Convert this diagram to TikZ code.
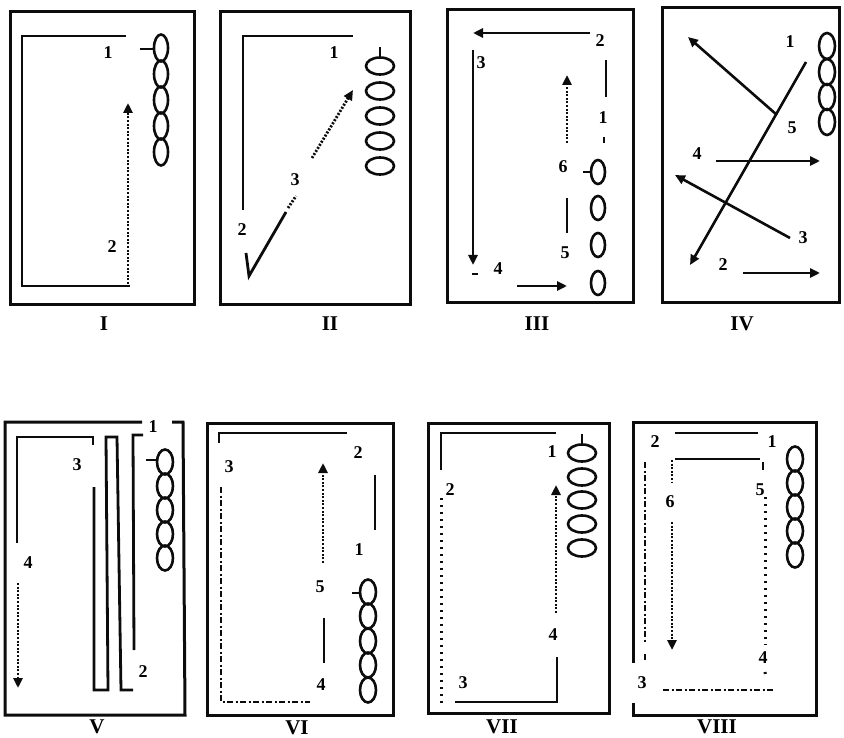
\documentclass[tikz,border=0pt]{standalone}
\usepackage{fontspec}
\setmainfont{Liberation Serif}
\usepackage{xcolor}
\usetikzlibrary{arrows.meta}
\definecolor{InkBlack}{RGB}{12, 12, 12}

\tikzset{
  frame/.style={draw=InkBlack, line width=3pt, line join=miter},
  wall/.style={draw=InkBlack, line width=2.8pt},
  flow/.style={draw=InkBlack, line width=2.6pt, -{Triangle[length=10pt, width=9pt]}},
  dotline/.style={draw=InkBlack, line width=2.8pt, dash pattern=on 2pt off 1.6pt},
  dotflow/.style={flow, line width=2.8pt, dash pattern=on 2pt off 1.6pt},
  sparse/.style={draw=InkBlack, line width=3pt, dash pattern=on 2pt off 5pt},
  dashdot/.style={draw=InkBlack, line width=2.6pt, dash pattern=on 6pt off 2.5pt on 2pt off 2.5pt},
  bead/.style={draw=InkBlack, line width=2.6pt},
  num/.style={font=\fontsize{18}{18}\selectfont\bfseries, inner sep=0pt},
  roman/.style={font=\fontsize{21}{21}\selectfont\bfseries, inner sep=0pt}
}

\begin{document}
\begin{tikzpicture}[x=1pt, y=-1pt]
  \useasboundingbox (0,0) rectangle (844,738);

  % I
  \draw[frame] (10,12) rectangle (194,305);
  \draw[wall] (126,36) -- (22,36) -- (22,286) -- (130,286);
  \draw[dotflow] (128,284) -- (128,103);
  \foreach \y in {48,74,100,126,152}
    \draw[bead] (161,\y) ellipse [x radius=7pt, y radius=13.5pt];
  \draw[bead] (140,49) -- (154,49);
  \node[num] (oneA) at (108,53) {1};
  \node[num] (oneB) at (112,247) {2};
  \node[roman] (romI) at (104,324) {I};

  % II
  \draw[frame] (220,12) rectangle (410,305);
  \draw[wall] (353,36) -- (243,36) -- (243,210);
  \draw[wall] (246,253) -- (249,276) -- (286,212);
  \draw[dotline] (288,208) -- (296,196);
  \draw[dotflow] (312,158) -- (353,90);
  \foreach \y in {66,91,116,141,166}
    \draw[bead] (380,\y) ellipse [x radius=14pt, y radius=8.5pt];
  \draw[bead] (380,58) -- (380,47);
  \node[num] (twoA) at (334,53) {1};
  \node[num] (twoB) at (242,230) {2};
  \node[num] (twoC) at (295,180) {3};
  \node[roman] (romII) at (330,324) {II};

  % III
  \draw[frame] (447,10) rectangle (633,303);
  \draw[flow] (590,33) -- (473,33);
  \draw[flow] (473,50) -- (473,265);
  \draw[flow] (517,286) -- (567,286);
  \draw[wall] (472,274) -- (478,274);
  \draw[wall] (606,60) -- (606,97);
  \draw[wall] (604,137) -- (604,143);
  \draw[dotflow] (567,143) -- (567,75);
  \draw[wall] (567,198) -- (567,233);
  \foreach \y in {172,208,245,283}
    \draw[bead] (598,\y) ellipse [x radius=7pt, y radius=12pt];
  \draw[bead] (583,172) -- (591,172);
  \node[num] (threeA) at (603,118) {1};
  \node[num] (threeB) at (600,41) {2};
  \node[num] (threeC) at (481,63) {3};
  \node[num] (threeD) at (498,269) {4};
  \node[num] (threeE) at (565,253) {5};
  \node[num] (threeF) at (563,167) {6};
  \node[roman] (romIII) at (537,324) {III};

  % IV
  \draw[frame] (662,8) rectangle (839,303);
  \draw[flow] (806,62) -- (690,265);
  \draw[flow] (777,115) -- (688,37);
  \draw[flow] (716,161) -- (820,161);
  \draw[flow] (790,238) -- (675,175);
  \draw[flow] (743,273) -- (820,273);
  \foreach \y in {46,72,97,122}
    \draw[bead] (827,\y) ellipse [x radius=8pt, y radius=13pt];
  \node[num] (fourA) at (790,42) {1};
  \node[num] (fourB) at (723,265) {2};
  \node[num] (fourC) at (803,238) {3};
  \node[num] (fourD) at (697,154) {4};
  \node[num] (fourE) at (792,128) {5};
  \node[roman] (romIV) at (742,324) {IV};

  % V
  \draw[frame] (142,422) -- (5,422) -- (5,715) -- (185,715) -- (183,422) -- (172,422);
  \draw[wall] (17,543) -- (17,437) -- (93,437) -- (93,445);
  \draw[wall] (94,487) -- (94,690) -- (108,690) -- (106,437) -- (117,437) -- (121,690) -- (133,690);
  \draw[wall] (143,435) -- (133,435) -- (134,650);
  \draw[dotflow] (18,583) -- (18,688);
  \foreach \y in {462,486,510,534,558}
    \draw[bead] (165,\y) ellipse [x radius=8pt, y radius=12.5pt];
  \draw[bead] (146,460) -- (157,460);
  \node[num] (fiveA) at (153,427) {1};
  \node[num] (fiveB) at (143,672) {2};
  \node[num] (fiveC) at (77,465) {3};
  \node[num] (fiveD) at (28,563) {4};
  \node[roman] (romV) at (97,727) {V};

  % VI
  \draw[frame] (207,423) rectangle (393,715);
  \draw[wall] (219,443) -- (219,433) -- (347,433);
  \draw[dashdot] (221,487) -- (221,702) -- (310,702);
  \draw[dotflow] (323,563) -- (323,463);
  \draw[wall] (375,475) -- (375,530);
  \draw[wall] (324,618) -- (324,663);
  \foreach \y in {592,616,641,665,690}
    \draw[bead] (368,\y) ellipse [x radius=8pt, y radius=12.5pt];
  \draw[bead] (352,593) -- (361,593);
  \node[num] (sixA) at (359,550) {1};
  \node[num] (sixB) at (358,453) {2};
  \node[num] (sixC) at (229,467) {3};
  \node[num] (sixD) at (321,685) {4};
  \node[num] (sixE) at (320,587) {5};
  \node[roman] (romVI) at (297,728) {VI};

  % VII
  \draw[frame] (428,423) rectangle (609,713);
  \draw[wall] (441,470) -- (441,433) -- (556,433);
  \draw[sparse] (441,498) -- (441,704);
  \draw[wall] (455,702) -- (557,702) -- (557,657);
  \draw[dotflow] (556,613) -- (556,485);
  \foreach \y in {453,477,500,524,548}
    \draw[bead] (582,\y) ellipse [x radius=14pt, y radius=8.5pt];
  \draw[bead] (582,444) -- (582,434);
  \node[num] (sevenA) at (552,452) {1};
  \node[num] (sevenB) at (450,490) {2};
  \node[num] (sevenC) at (463,683) {3};
  \node[num] (sevenD) at (553,635) {4};
  \node[roman] (romVII) at (502,727) {VII};

  % VIII
  \draw[frame] (633,663) -- (633,422) -- (816,422) -- (816,715) -- (633,715) -- (633,703);
  \draw[wall] (675,433) -- (758,433);
  \draw[wall] (675,459) -- (760,459);
  \draw[wall] (763,462) -- (763,470);
  \draw[sparse] (765,497) -- (765,645);
  \draw[sparse] (765,672) -- (766,678);
  \draw[dashdot] (663,690) -- (775,690);
  \draw[dashdot] (645,462) -- (645,643);
  \draw[wall] (645,654) -- (645,660);
  \draw[dotline] (672,460) -- (672,482);
  \draw[dotflow] (672,522) -- (672,650);
  \foreach \y in {459,483,507,531,555}
    \draw[bead] (795,\y) ellipse [x radius=8pt, y radius=12.5pt];
  \node[num] (eightA) at (772,442) {1};
  \node[num] (eightB) at (655,442) {2};
  \node[num] (eightC) at (642,683) {3};
  \node[num] (eightD) at (763,658) {4};
  \node[num] (eightE) at (760,490) {5};
  \node[num] (eightF) at (670,502) {6};
  \node[roman] (romVIII) at (717,727) {VIII};
\end{tikzpicture}
\end{document}
